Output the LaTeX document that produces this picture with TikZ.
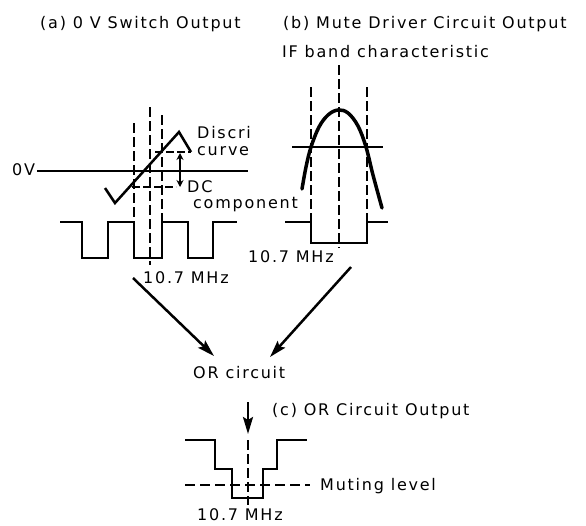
\documentclass[tikz,border=0pt]{standalone}
\usepackage{fontspec}
\setmainfont{DejaVu Sans}[LetterSpace=11]
\usetikzlibrary{arrows.meta}
\begin{document}
\begin{tikzpicture}[x=1pt,y=-1pt,
  lbl/.style={anchor=base west,inner sep=0pt,font=\fontsize{16}{19}\selectfont},
  wave/.style={line width=2.5pt,line join=miter},
  dsh/.style={line width=2.5pt,dash pattern=on 10pt off 4pt},
  bigarrow/.style={line width=2.5pt,-{Stealth[length=17pt,width=10pt,inset=3pt]}},
  dbl/.style={line width=1.8pt,{Stealth[length=7pt,width=7pt]}-{Stealth[length=7pt,width=7pt]}}]
\useasboundingbox (0,0) rectangle (586,525);
% titles
\node[lbl] (ta) at (40,28) {(a) 0 V Switch Output};
\node[lbl] (tb) at (283,28) {(b) Mute Driver Circuit Output};
\node[lbl] (tif) at (282,57) {IF band characteristic};
% ---------- (a)
\node[lbl] (zv) at (12,175) {0V};
\draw[wave] (37,171) -- (248,171);
\draw[dsh] (150,107) -- (150,265);
\draw[dsh] (134,123) -- (134,222);
\draw[dsh] (162,115) -- (162,222);
\draw[dsh,dash pattern=on 8pt off 3pt] (155,152) -- (191,152);
\draw[dsh,dash pattern=on 8pt off 3pt] (132,187) -- (176,187);
\draw[wave] (105,188) -- (115,203) -- (179,132) -- (191,152);
\coordinate (dtop) at (180,153);
\coordinate (dbot) at (180,187);
\draw[dbl] (dtop) -- (dbot);
\node[lbl] (discri) at (197,138) {Discri};
\node[lbl] (curve) at (197,155) {curve};
\node[lbl] (dc) at (187,192) {DC};
\node[lbl] (comp) at (193,208) {component};
\draw[wave] (60,222) -- (82,222) -- (82,258) -- (108,258) -- (108,222) -- (134,222)
  -- (134,258) -- (162,258) -- (162,222) -- (188,222) -- (188,258) -- (213,258)
  -- (213,222) -- (237,222);
\node[lbl] (fa) at (143,283) {10.7 MHz};
% ---------- (b)
\draw[dsh] (339,65) -- (339,248);
\draw[dsh] (311,87) -- (311,222);
\draw[dsh] (367,87) -- (367,222);
\draw[line width=2.5pt] (292,147) -- (383,147);
\draw[line width=3.5pt,line cap=round] plot[smooth,tension=0.6] coordinates
  {(302,189) (306,167) (311,147) (319,127) (328,115) (338,110) (348,113) (358,126) (366,147) (373,175) (382,208)};
\draw[wave] (285,222) -- (311,222) -- (311,243) -- (367,243) -- (367,222) -- (388,222);
\node[lbl] (fb) at (248,262) {10.7 MHz};
% ---------- OR
\node[lbl] (orc) at (193,378) {OR circuit};
\coordinate (sa) at (133,278);
\coordinate (ea) at (214,356);
\coordinate (sb) at (351,267);
\coordinate (eb) at (270,357);
\draw[bigarrow] (sa) -- (ea);
\draw[bigarrow] (sb) -- (eb);
\coordinate (sc) at (248,402);
\coordinate (ec) at (248,434);
\draw[bigarrow] (sc) -- (ec);
% ---------- (c)
\node[lbl] (tc) at (272,415) {(c) OR Circuit Output};
\draw[dsh] (248,440) -- (248,505);
\draw[dsh,dash pattern=on 10pt off 5pt] (185,485) -- (310,485);
\draw[wave] (185,440) -- (215,440) -- (215,469) -- (232,469) -- (232,498) -- (263,498)
  -- (263,469) -- (277,469) -- (277,440) -- (307,440);
\node[lbl] (mute) at (320,490) {Muting level};
\node[lbl] (fc) at (197,520) {10.7 MHz};
\end{tikzpicture}
\end{document}
